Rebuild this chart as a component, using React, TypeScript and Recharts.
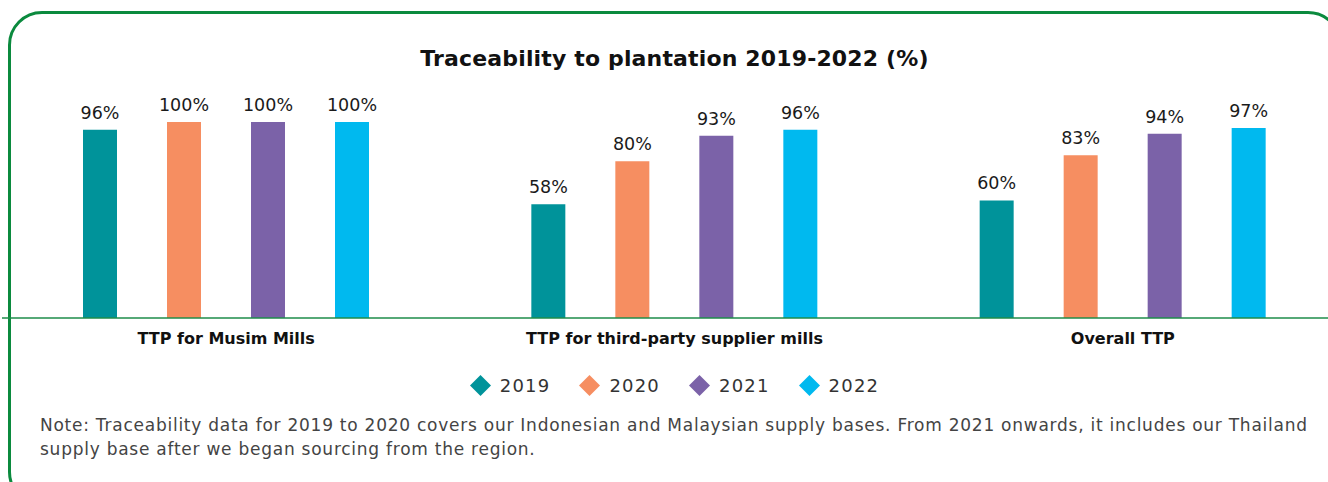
import { BarChart, Bar, XAxis, YAxis, Legend, LabelList } from 'recharts'

const categories = ['TTP for Musim Mills', 'TTP for third-party supplier mills', 'Overall TTP']
const years = ['2019', '2020', '2021', '2022']
const values2019 = [96, 58, 60]
const values2020 = [100, 80, 83]
const values2021 = [100, 93, 94]
const values2022 = [100, 96, 97]
const yearColors = ['#00939a', '#f68e61', '#7b62a8', '#00b9ef']

const seriesValues = [values2019, values2020, values2021, values2022]

const data = categories.map((name, i) => {
  const row: Record<string, string | number> = { name }
  years.forEach((y, j) => {
    row[y] = seriesValues[j][i]
  })
  return row
})

const FONT = '"DejaVu Sans", sans-serif'

function LegendContent(props: any) {
  const payload = props.payload || []
  return (
    <div
      style={{
        display: 'flex',
        justifyContent: 'center',
        alignItems: 'center',
        height: 30,
        fontFamily: FONT,
        fontSize: 18,
        color: '#333',
        letterSpacing: 1.2,
      }}
    >
      {payload.map((p: any, i: number) => (
        <div
          key={p.value}
          style={{ display: 'flex', alignItems: 'center', marginRight: i < payload.length - 1 ? 29 : 0 }}
        >
          <svg width={21} height={21} style={{ marginRight: 9 }}>
            <polygon points="10.5,0 21,10.5 10.5,21 0,10.5" fill={p.color} />
          </svg>
          <span>{p.value}</span>
        </div>
      ))}
    </div>
  )
}

export default function App() {
  return (
    <div
      style={{
        position: 'absolute',
        left: 0,
        top: 0,
        width: 1328,
        height: 482,
        overflow: 'hidden',
        background: '#fff',
      }}
    >
      <div
        style={{
          position: 'absolute',
          left: 8,
          top: 11,
          width: 1334,
          height: 495,
          border: '3px solid #0b8a3e',
          borderRadius: 34,
          boxSizing: 'border-box',
        }}
      />
      <div
        style={{
          position: 'absolute',
          left: 0,
          top: 45,
          width: 1349,
          textAlign: 'center',
          fontFamily: FONT,
          fontWeight: 700,
          fontSize: 22,
          lineHeight: '28px',
          letterSpacing: 0.15,
          color: '#111',
        }}
      >
        Traceability to plantation 2019-2022 (%)
      </div>
      <div style={{ position: 'absolute', left: 0, top: 0 }}>
        <BarChart
          width={1348}
          height={410}
          data={data}
          margin={{ top: 122, right: 1, bottom: 10, left: 2 }}
          barSize={34}
          barGap={50}
        >
          <XAxis
            dataKey="name"
            height={52}
            axisLine={{ stroke: '#1e8c4a', strokeWidth: 1.5 }}
            tickLine={false}
            tickMargin={9}
            tick={{ fontFamily: FONT, fontSize: 16, fontWeight: 700, fill: '#111' }}
          />
          <YAxis hide domain={[0, 100]} />
          <Legend verticalAlign="bottom" content={<LegendContent />} />
          {years.map((y, j) => (
            <Bar key={y} dataKey={y} name={y} fill={yearColors[j]} isAnimationActive={false}>
              <LabelList
                dataKey={y}
                position="top"
                offset={11}
                formatter={(v: any) => `${v}%`}
                style={{ fontFamily: FONT, fontSize: 17.5, fontWeight: 400, fill: '#1a1a1a' }}
              />
            </Bar>
          ))}
        </BarChart>
      </div>
      <div
        style={{
          position: 'absolute',
          left: 40,
          top: 413,
          fontFamily: FONT,
          fontSize: 17,
          lineHeight: '24px',
          letterSpacing: 0.75,
          color: '#444',
          whiteSpace: 'nowrap',
        }}
      >
        Note: Traceability data for 2019 to 2020 covers our Indonesian and Malaysian supply bases. From 2021 onwards, it includes our Thailand
        <br />
        supply base after we began sourcing from the region.
      </div>
    </div>
  )
}
